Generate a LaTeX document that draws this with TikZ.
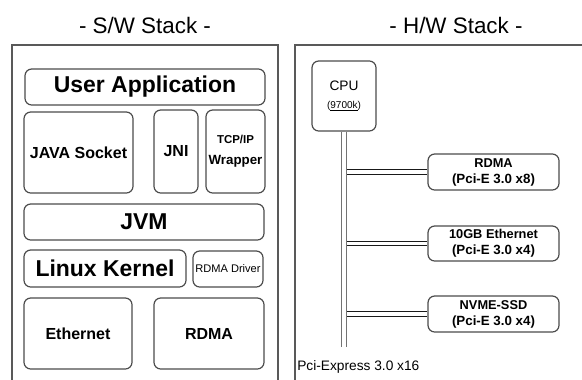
\documentclass[tikz,border=0pt]{standalone}
\usepackage{fontspec}
\setmainfont{Liberation Sans}
\usetikzlibrary{positioning}

\newcommand{\bigtxt}{\fontsize{17.2pt}{19pt}\selectfont}
\newcommand{\ttltxt}{\fontsize{16.8pt}{19pt}\selectfont}
\newcommand{\midtxt}{\fontsize{12pt}{14pt}\selectfont}
\newcommand{\nictxt}{\fontsize{9.6pt}{12.6pt}\selectfont}
\newcommand{\smltxt}{\fontsize{8.6pt}{14pt}\selectfont}

\begin{document}
\begin{tikzpicture}[x=0.75pt,y=-0.75pt]
	\tikzset{blk/.style={draw=black!70,line width=0.9pt,rounded corners=5pt,align=center,inner sep=1pt,font=\bfseries},
		frame/.style={draw=black!65,line width=0.9pt},
		bus/.style={draw=black!55,line width=0.8pt,double=white,double distance=2.6pt},
		lane/.style={bus,draw=black!90}}
	\clip (0,0) rectangle (582,379);
	% titles and the two stack frames
	\node[font=\ttltxt] (swt) at (145,25) {- S/W Stack -};
	\node[font=\ttltxt] (hwt) at (456,25) {- H/W Stack -};
	\draw[frame] (12,390) -- (12,45) -- (278,45) -- (278,390);
	\draw[frame] (295,390) -- (295,45) -- (600,45);
	% software side
	\node[blk,minimum width=180pt,minimum height=27pt] (app) at (145,87) {\bigtxt User Application};
	\node[blk,minimum width=81.75pt,minimum height=60.75pt] (jsock) at (78.5,152.5) {\midtxt JAVA Socket};
	\node[blk,minimum width=33pt,minimum height=62.25pt] (jni) at (176,151.5) {\midtxt JNI};
	\node[blk,minimum width=44.25pt,minimum height=62.25pt] (tcp) at (235.5,151.5) {\smltxt TCP/IP\\[4pt] Wrapper};
	\node[blk,minimum width=180pt,minimum height=27pt] (jvm) at (144,222) {\bigtxt JVM};
	\node[blk,minimum width=121.5pt,minimum height=27.75pt] (kernel) at (105,268.5) {\bigtxt Linux Kernel};
	\node[blk,font=\mdseries,minimum width=52.5pt,minimum height=27pt] (rdrv) at (228,269) {\fontsize{8.3pt}{10pt}\selectfont RDMA Driver};
	\node[blk,minimum width=81pt,minimum height=53.25pt] (eth) at (78,333.5) {\midtxt Ethernet};
	\node[blk,minimum width=82.5pt,minimum height=53.25pt] (rdma) at (209,333.5) {\midtxt RDMA};
	% hardware side
	\node[blk,font=\mdseries,minimum width=48pt,minimum height=52.5pt] (cpu) at (344,96)
		{\fontsize{10.3pt}{12pt}\selectfont CPU\\[1pt] \fontsize{7.5pt}{9pt}\selectfont(\underline{9700k})};
	\node[blk,minimum width=98.25pt,minimum height=27pt] (nic1) at (493.5,172) {\nictxt RDMA\\ (Pci-E 3.0 x8)};
	\node[blk,minimum width=98.25pt,minimum height=26.25pt] (nic2) at (493.5,243.5) {\nictxt 10GB Ethernet\\ (Pci-E 3.0 x4)};
	\node[blk,minimum width=98.25pt,minimum height=27pt] (ssd) at (493.5,314) {\nictxt NVME-SSD\\ (Pci-E 3.0 x4)};
	\coordinate (busend) at (344,347);
	\node[anchor=west,inner sep=0pt,font=\fontsize{10.3pt}{12pt}\selectfont] (pcie) at (297,367) {Pci-Express 3.0 x16};
	% pci-e lanes, then the main bus on top
	\draw[lane] (nic1.west -| cpu.south) -- (nic1.west);
	\draw[lane] (nic2.west -| cpu.south) -- (nic2.west);
	\draw[lane] (ssd.west -| cpu.south) -- (ssd.west);
	\draw[bus] (cpu.south) -- (busend);
\end{tikzpicture}
\end{document}
